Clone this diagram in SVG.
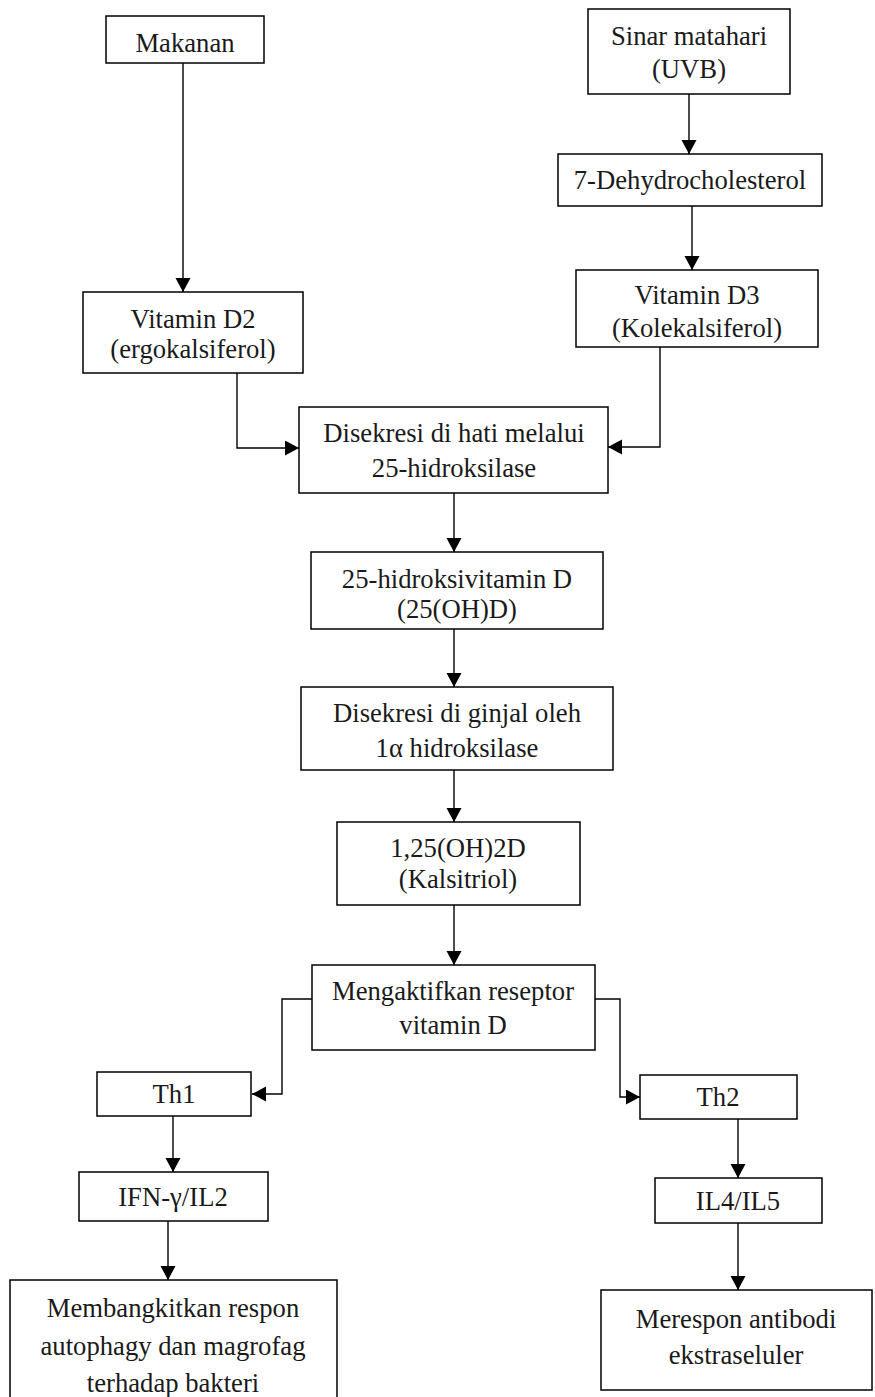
<svg xmlns="http://www.w3.org/2000/svg" width="875" height="1397" viewBox="0 0 875 1397">
<defs>
<style>
.box{fill:#fff;stroke:#000;stroke-width:1.5}
.t{font-family:"Liberation Serif","Times New Roman",serif;font-size:26.67px;fill:#1a1a1a;text-anchor:middle}
.c{fill:none;stroke:#000;stroke-width:1.4}
</style>
<marker id="ah" markerUnits="userSpaceOnUse" markerWidth="15" markerHeight="16" refX="14" refY="7.5" orient="auto">
<path d="M0,0 L14,7.5 L0,15 z" fill="#000"/>
</marker>
</defs>
<rect width="875" height="1397" fill="#fff"/>
<g id="connectors">
<line class="c" x1="183" y1="63" x2="183" y2="292" marker-end="url(#ah)"/>
<line class="c" x1="689" y1="94" x2="689" y2="154" marker-end="url(#ah)"/>
<line class="c" x1="692" y1="206" x2="692" y2="270" marker-end="url(#ah)"/>
<polyline class="c" points="237,373 237,448 299,448" marker-end="url(#ah)"/>
<polyline class="c" points="660,347 660,447 608,447" marker-end="url(#ah)"/>
<line class="c" x1="454" y1="493" x2="454" y2="552" marker-end="url(#ah)"/>
<line class="c" x1="454" y1="629" x2="454" y2="687" marker-end="url(#ah)"/>
<line class="c" x1="454" y1="770" x2="454" y2="822" marker-end="url(#ah)"/>
<line class="c" x1="454" y1="905" x2="454" y2="965" marker-end="url(#ah)"/>
<polyline class="c" points="312,999 282,999 282,1094 252,1094" marker-end="url(#ah)"/>
<polyline class="c" points="595,999 620,999 620,1097 640,1097" marker-end="url(#ah)"/>
<line class="c" x1="173" y1="1116" x2="173" y2="1172" marker-end="url(#ah)"/>
<line class="c" x1="168" y1="1221" x2="168" y2="1280" marker-end="url(#ah)"/>
<line class="c" x1="738" y1="1119" x2="738" y2="1178" marker-end="url(#ah)"/>
<line class="c" x1="738" y1="1223" x2="738" y2="1290" marker-end="url(#ah)"/>
</g>
<g id="makanan"><rect class="box" x="106" y="16" width="158" height="47"/><text class="t" x="185" y="52">Makanan</text></g>
<g id="sinar"><rect class="box" x="588" y="9" width="202" height="85"/><text class="t" x="689" y="45">Sinar matahari</text><text class="t" x="689" y="78">(UVB)</text></g>
<g id="dehydro"><rect class="box" x="558" y="154" width="264" height="52"/><text class="t" x="690" y="189">7-Dehydrocholesterol</text></g>
<g id="d3"><rect class="box" x="576" y="270" width="242" height="77"/><text class="t" x="697" y="304">Vitamin D3</text><text class="t" x="697" y="337">(Kolekalsiferol)</text></g>
<g id="d2"><rect class="box" x="83" y="292" width="220" height="81"/><text class="t" x="193" y="328">Vitamin D2</text><text class="t" x="193" y="358">(ergokalsiferol)</text></g>
<g id="hati"><rect class="box" x="299" y="407" width="309" height="86"/><text class="t" x="454" y="442">Disekresi di hati melalui</text><text class="t" x="454" y="477">25-hidroksilase</text></g>
<g id="hidroksi"><rect class="box" x="311" y="552" width="292" height="77"/><text class="t" x="457" y="588">25-hidroksivitamin D</text><text class="t" x="457" y="618">(25(OH)D)</text></g>
<g id="ginjal"><rect class="box" x="301" y="687" width="312" height="83"/><text class="t" x="457" y="722">Disekresi di ginjal oleh</text><text class="t" x="457" y="757">1α hidroksilase</text></g>
<g id="kalsitriol"><rect class="box" x="337" y="822" width="243" height="83"/><text class="t" x="458" y="857">1,25(OH)2D</text><text class="t" x="458" y="888">(Kalsitriol)</text></g>
<g id="reseptor"><rect class="box" x="312" y="965" width="283" height="85"/><text class="t" x="453" y="1000">Mengaktifkan reseptor</text><text class="t" x="453" y="1034">vitamin D</text></g>
<g id="th1"><rect class="box" x="97" y="1072" width="154" height="44"/><text class="t" x="174" y="1103">Th1</text></g>
<g id="th2"><rect class="box" x="640" y="1075" width="157" height="44"/><text class="t" x="718" y="1106">Th2</text></g>
<g id="ifn"><rect class="box" x="79" y="1172" width="189" height="49"/><text class="t" x="173" y="1206">IFN-γ/IL2</text></g>
<g id="il4"><rect class="box" x="655" y="1178" width="167" height="45"/><text class="t" x="738" y="1210">IL4/IL5</text></g>
<g id="membangkitkan"><rect class="box" x="10" y="1280" width="327" height="125"/><text class="t" x="173" y="1317">Membangkitkan respon</text><text class="t" x="173" y="1355">autophagy dan magrofag</text><text class="t" x="173" y="1392">terhadap bakteri</text></g>
<g id="merespon"><rect class="box" x="601" y="1290" width="271" height="100"/><text class="t" x="736" y="1328">Merespon antibodi</text><text class="t" x="736" y="1364">ekstraseluler</text></g>
</svg>
